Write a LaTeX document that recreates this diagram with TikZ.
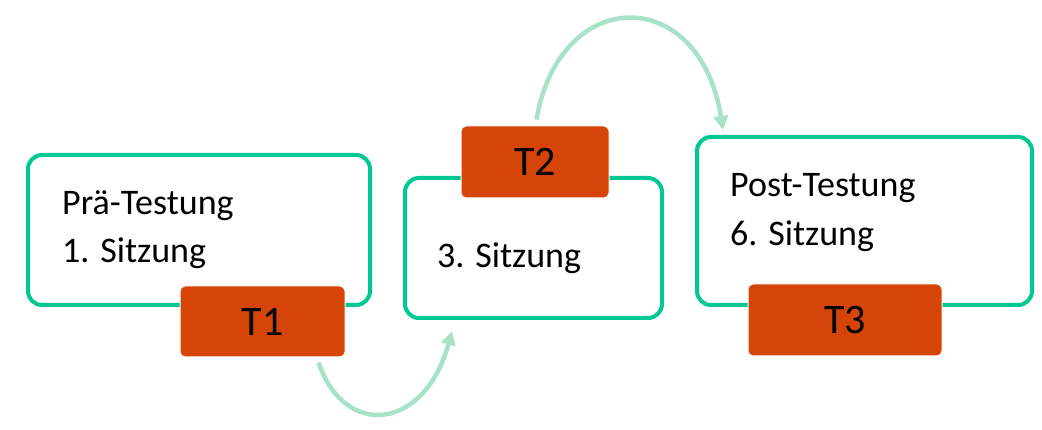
\documentclass[tikz,border=0pt]{standalone}
\usepackage{fontspec}
\setmainfont{Carlito}
\usetikzlibrary{calc,arrows.meta}
\definecolor{frame}{HTML}{00C895}
\definecolor{tag}{HTML}{D54509}
\definecolor{flow}{HTML}{A8E3C9}
\tikzset{
  panel/.style={draw=frame,line width=4pt,rounded corners=14pt},
  tagbox/.style={fill=tag,draw=white,line width=1pt,rounded corners=5pt,inner sep=0pt,
    font=\fontsize{42}{48}\selectfont,text=black},
  label/.style={anchor=west,inner sep=0pt,font=\fontsize{36}{42}\selectfont,text=black},
  flowarrow/.style={draw=flow,line width=4.5pt,-{Triangle[length=14pt,width=14pt]}}
}
\begin{document}
\begin{tikzpicture}[x=1pt,y=-1pt]
\useasboundingbox (0,0) rectangle (1042,430);
% panels
\draw[panel] (28,155) rectangle (370,305);
\draw[panel] (405,178) rectangle (662,318);
\draw[panel] (697,137) rectangle (1032,305);
\node[label] (a1) at (62,206) {Prä-Testung};
\node[label] (a2) at (62,253) {1. Sitzung};
\node[label] (b1) at (437,258) {3. Sitzung};
\node[label] (c1) at (730,188) {Post-Testung};
\node[label] (c2) at (730,236) {6. Sitzung};
% tags
\node[tagbox,minimum width=165pt,minimum height=71pt] (T1) at (262.5,321.5) {T1};
\node[tagbox,minimum width=148pt,minimum height=72pt] (T2) at (535,162) {T2};
\node[tagbox,minimum width=194pt,minimum height=72pt] (T3) at (845,320) {T3};
% flow arrows
\coordinate (s1) at ($(T1.south east)+(-27,5)$);
\coordinate (e1) at (452,331);
\draw[flowarrow] (s1) .. controls (345,440) and (425,430) .. (e1);
\coordinate (s2) at ($(T2.north west)+(76,-6)$);
\coordinate (e2) at (723,130);
\draw[flowarrow] (s2) .. controls (560,-16) and (700,-16) .. (e2);
\end{tikzpicture}
\end{document}
